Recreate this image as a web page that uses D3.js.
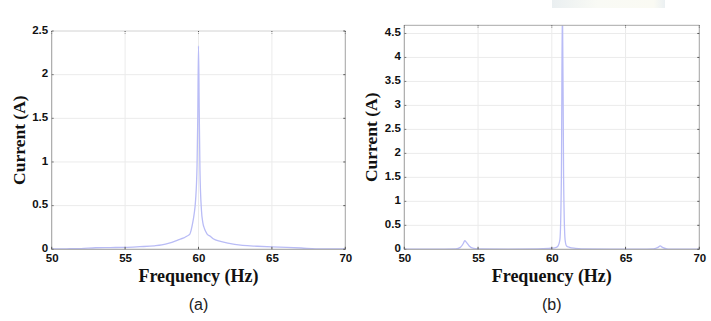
<!DOCTYPE html>
<html>
<head>
<meta charset="utf-8">
<script src="https://cdn.jsdelivr.net/npm/d3@7"></script>
<style>
  html, body { margin: 0; padding: 0; background: #fff; }
  svg { display: block; }
</style>
</head>
<body>
<svg id="chart" width="711" height="321"></svg>
<script>
// ---- Data ----
const xTicks = [50, 55, 60, 65, 70];
const yTicksA = [0, 0.5, 1, 1.5, 2, 2.5];
const yTicksB = [0, 0.5, 1, 1.5, 2, 2.5, 3, 3.5, 4, 4.5];

const freqA = [50,51,52,53,54,55,56,57,57.5,58,58.5,58.8,59,59.2,59.4,59.5,59.6,59.7,59.8,59.9,59.95,60,60.05,60.1,60.2,60.3,60.4,60.5,60.6,60.8,61,61.5,62,63,64,65,66,67,68,69,70];
const currA = [0.005,0.006,0.008,0.018,0.02,0.022,0.03,0.04,0.05,0.07,0.1,0.12,0.13,0.15,0.17,0.22,0.3,0.4,0.56,0.95,1.5,2.33,1.6,0.9,0.45,0.3,0.24,0.2,0.17,0.15,0.12,0.09,0.07,0.045,0.035,0.028,0.022,0.015,0.006,0.005,0.005];

const freqB = [50,52,53.5,53.8,54,54.1,54.2,54.4,54.7,55,57,59,59.8,60.2,60.4,60.55,60.65,60.72,60.8,60.9,61.0,61.2,61.6,62,64,66,66.9,67.2,67.35,67.5,67.8,68,70];
const currB = [0.005,0.005,0.01,0.04,0.12,0.18,0.15,0.07,0.02,0.01,0.005,0.01,0.02,0.03,0.06,0.2,1.5,5.2,1.5,0.2,0.07,0.04,0.02,0.01,0.005,0.005,0.01,0.04,0.07,0.04,0.01,0.005,0.005];

const panels = [
  { id: "a", freq: freqA, curr: currA, yTicks: yTicksA, yMax: 2.5,
    left: 51.7, right: 345.3, top: 31, bottom: 249.3, caption: "(a)", topBorder: "#dcdcdc" },
  { id: "b", freq: freqB, curr: currB, yTicks: yTicksB, yMax: 4.67,
    left: 404.3, right: 699.3, top: 25.3, bottom: 249.3, caption: "(b)", topBorder: "#a8a8a8" }
];

const svg = d3.select("#chart");

// faint artifact at the top
const grad = svg.append("defs").append("linearGradient").attr("id", "topfade");
grad.append("stop").attr("offset", "0%").attr("stop-color", "#eaeff1");
grad.append("stop").attr("offset", "40%").attr("stop-color", "#f9faf5");
grad.append("stop").attr("offset", "90%").attr("stop-color", "#fafaf3");
grad.append("stop").attr("offset", "100%").attr("stop-color", "#ebf0f2");
svg.append("rect").attr("x", 552).attr("y", 0).attr("width", 113).attr("height", 8)
  .attr("fill", "url(#topfade)");

panels.forEach(p => {
  const x = d3.scaleLinear().domain([50, 70]).range([p.left, p.right]);
  const y = d3.scaleLinear().domain([0, p.yMax]).range([p.bottom, p.top]);
  const g = svg.append("g");

  // grid
  g.selectAll(".vg").data(xTicks).join("line")
    .attr("x1", d => x(d)).attr("x2", d => x(d))
    .attr("y1", p.top).attr("y2", p.bottom)
    .attr("stroke", "#ebebeb").attr("stroke-width", 1);
  g.selectAll(".hg").data(p.yTicks).join("line")
    .attr("x1", p.left).attr("x2", p.right)
    .attr("y1", d => y(d)).attr("y2", d => y(d))
    .attr("stroke", "#ebebeb").attr("stroke-width", 1);

  // clip
  const clipId = "clip-" + p.id;
  svg.append("clipPath").attr("id", clipId).append("rect")
    .attr("x", p.left).attr("y", p.top).attr("width", p.right - p.left).attr("height", p.bottom - p.top);

  // line
  const line = d3.line().x((d, i) => x(p.freq[i])).y(d => y(d)).curve(d3.curveMonotoneX);
  g.append("path").datum(p.curr)
    .attr("d", line)
    .attr("fill", "none")
    .attr("stroke", "#b9bcf6")
    .attr("stroke-width", 1.3)
    .attr("clip-path", `url(#${clipId})`);

  // borders
  g.append("line").attr("x1", p.left).attr("x2", p.right).attr("y1", p.top).attr("y2", p.top)
    .attr("stroke", p.topBorder).attr("stroke-width", 1);
  g.append("line").attr("x1", p.right).attr("x2", p.right).attr("y1", p.top).attr("y2", p.bottom)
    .attr("stroke", "#a8a8a8").attr("stroke-width", 1);
  g.append("line").attr("x1", p.left).attr("x2", p.left).attr("y1", p.top).attr("y2", p.bottom)
    .attr("stroke", "#a0a0a0").attr("stroke-width", 1);
  g.append("line").attr("x1", p.left).attr("x2", p.right).attr("y1", p.bottom).attr("y2", p.bottom)
    .attr("stroke", "#a0a0a0").attr("stroke-width", 1);

  // tick marks (inside, on all sides)
  xTicks.forEach(t => {
    g.append("line").attr("x1", x(t)).attr("x2", x(t)).attr("y1", p.bottom).attr("y2", p.bottom - 2.5)
      .attr("stroke", "#555").attr("stroke-width", 1);
    g.append("line").attr("x1", x(t)).attr("x2", x(t)).attr("y1", p.top).attr("y2", p.top + 2.5)
      .attr("stroke", "#555").attr("stroke-width", 1).attr("stroke-dasharray", "1,1");
  });
  p.yTicks.forEach(t => {
    g.append("line").attr("x1", p.left).attr("x2", p.left + 2).attr("y1", y(t)).attr("y2", y(t))
      .attr("stroke", "#777").attr("stroke-width", 1);
    g.append("line").attr("x1", p.right).attr("x2", p.right - 2).attr("y1", y(t)).attr("y2", y(t))
      .attr("stroke", "#555").attr("stroke-width", 1);
  });

  // axes labels via d3 axes (no domain/ticks lines)
  const xAxis = d3.axisBottom(x).tickValues(xTicks).tickSize(0).tickPadding(6).tickFormat(d3.format("d"));
  const xa = g.append("g").attr("transform", `translate(0,${p.bottom})`).call(xAxis);
  xa.select(".domain").remove();
  xa.selectAll("text").attr("font-family", "Liberation Sans, Arial, sans-serif")
    .attr("font-size", 11.5).attr("fill", "#111").attr("font-weight", "bold").attr("dy", "0.55em");

  const yAxis = d3.axisLeft(y).tickValues(p.yTicks).tickSize(0).tickPadding(3.5).tickFormat(d => String(d));
  const ya = g.append("g").attr("transform", `translate(${p.left},0)`).call(yAxis);
  ya.select(".domain").remove();
  ya.selectAll("text").attr("font-family", "Liberation Sans, Arial, sans-serif")
    .attr("font-size", 11.5).attr("fill", "#111").attr("font-weight", "bold").attr("dy", "0.2em");

  const cx = (p.left + p.right) / 2;
  // x title
  g.append("text").attr("x", cx).attr("y", 282)
    .attr("text-anchor", "middle")
    .attr("font-family", "Liberation Serif, Times New Roman, serif")
    .attr("font-weight", "bold").attr("font-size", 18).attr("fill", "#111")
    .text("Frequency (Hz)");
  // y title
  const ylx = p.left - 27;
  const yly = (p.top + p.bottom) / 2;
  g.append("text").attr("transform", `translate(${ylx},${yly}) rotate(-90)`)
    .attr("text-anchor", "middle")
    .attr("font-family", "Liberation Serif, Times New Roman, serif")
    .attr("font-weight", "bold").attr("font-size", 17.5).attr("fill", "#111")
    .text("Current (A)");
  // caption
  g.append("text").attr("x", cx).attr("y", 310)
    .attr("text-anchor", "middle")
    .attr("font-family", "Liberation Sans, Arial, sans-serif")
    .attr("font-size", 16).attr("fill", "#222")
    .text(p.caption);
});
</script>
</body>
</html>
